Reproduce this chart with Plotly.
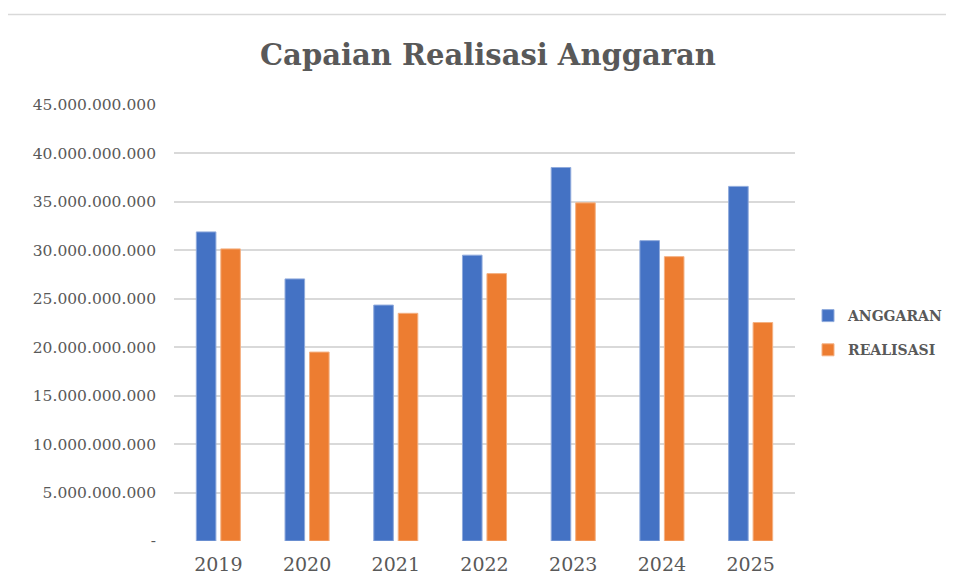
import plotly.graph_objects as go

years = ["2019", "2020", "2021", "2022", "2023", "2024", "2025"]
anggaran = [31.9e9, 27.05e9, 24.35e9, 29.5e9, 38.55e9, 31.0e9, 36.6e9]
realisasi = [30.15e9, 19.5e9, 23.5e9, 27.6e9, 34.9e9, 29.35e9, 22.55e9]
tick_vals = [0, 5e9, 10e9, 15e9, 20e9, 25e9, 30e9, 35e9, 40e9, 45e9]
tick_text = ["-", "5.000.000.000", "10.000.000.000", "15.000.000.000", "20.000.000.000",
             "25.000.000.000", "30.000.000.000", "35.000.000.000", "40.000.000.000",
             "45.000.000.000"]

OFF = 8  # page body margin
W, H = 946, 575
L, T = 174 - OFF, 105 - OFF
R = W - (795 - OFF)
B = H - (541 - OFF)
pw, ph = W - L - R, H - T - B

fig = go.Figure()
fig.add_trace(go.Bar(x=years, y=anggaran, name="ANGGARAN", legendgroup="a",
                     marker=dict(color="#4472C4", line=dict(color="#8FAADC", width=1))))
fig.add_trace(go.Bar(x=years, y=realisasi, name="REALISASI", legendgroup="b",
                     marker=dict(color="#ED7D31", line=dict(color="#F4B183", width=1))))

def px(x):  # window pixel -> paper
    return (x - OFF - L) / pw

def py(y):
    return (H - B - (y - OFF)) / ph

fig.add_shape(type="rect", xref="paper", yref="paper",
              x0=px(5.5), x1=px(990), y0=py(640), y1=py(14.5),
              line=dict(color="#D9D9D9", width=1.5), fillcolor="rgba(0,0,0,0)", layer="below")

fig.update_layout(
    width=W, height=H,
    margin=dict(l=L, r=R, t=T, b=B, autoexpand=False),
    paper_bgcolor="white", plot_bgcolor="white",
    barmode="group", bargap=0.448, bargroupgap=0.2,
    title=dict(text="<b>Capaian Realisasi Anggaran</b>", x=(488 - OFF) / W, xref="container",
               xanchor="center", y=1 - (55 - OFF) / H, yanchor="middle",
               font=dict(family="DejaVu Serif", size=29, color="#595959")),
    legend=dict(x=px(808), y=py(333), xanchor="left", yanchor="middle",
                font=dict(family="DejaVu Serif", size=14, color="#595959", weight="bold"),
                tracegroupgap=13, itemwidth=30, bgcolor="rgba(0,0,0,0)"),
    showlegend=True,
)
fig.update_xaxes(showgrid=False, showline=False, zeroline=False, ticks="",
                 ticklabelstandoff=10,
                 tickfont=dict(family="DejaVu Serif", size=19, color="#595959"))
fig.update_yaxes(range=[0, 45e9], tickvals=tick_vals, ticktext=tick_text,
                 showgrid=True, gridcolor="#D9D9D9", gridwidth=1.7, zeroline=False,
                 showline=False, ticks="", ticklabelstandoff=17,
                 tickfont=dict(family="DejaVu Serif", size=15.5, color="#595959"))

fig.write_html("out.html")
